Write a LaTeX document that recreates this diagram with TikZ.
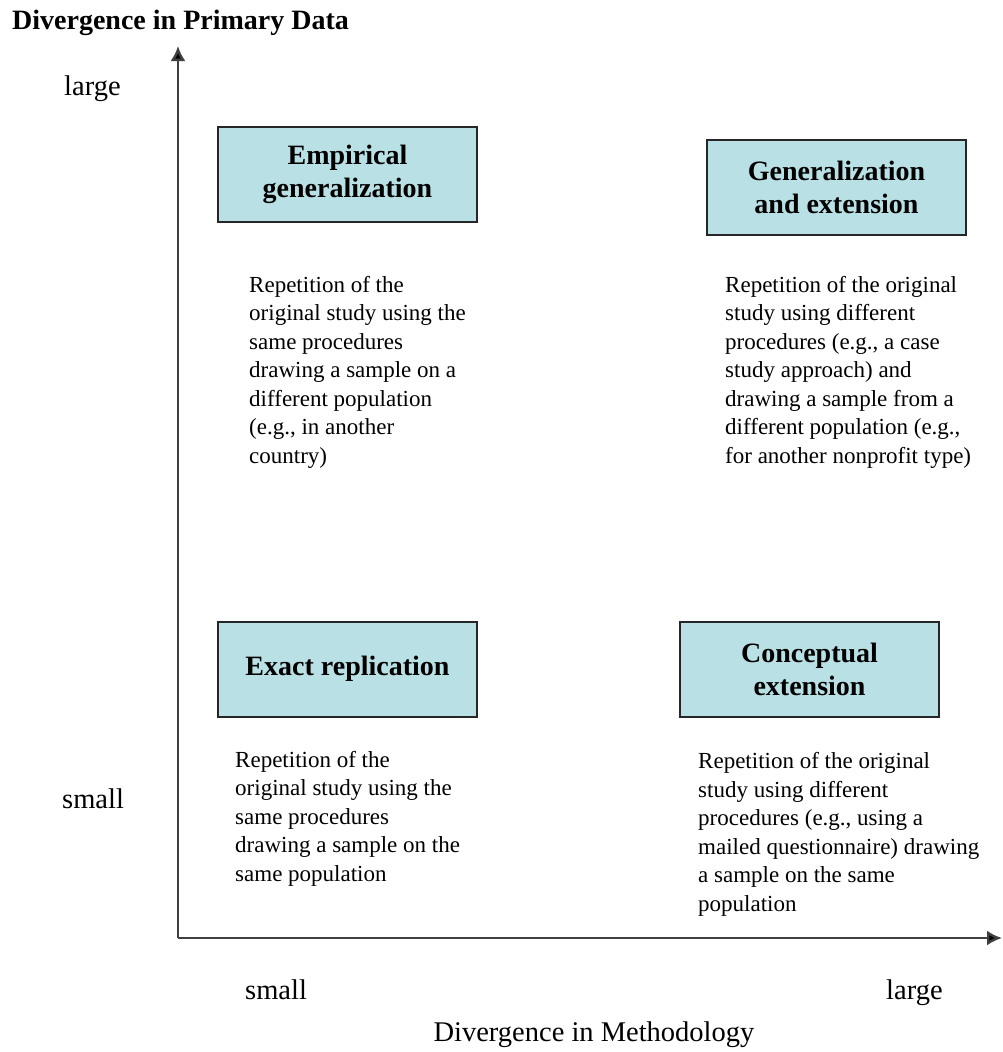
\documentclass[tikz,border=0pt]{standalone}
\usepackage{fontspec}
\setmainfont{Liberation Serif}
\usepackage{tikz}
\usetikzlibrary{arrows.meta, positioning}
\definecolor{boxblue}{RGB}{185,224,228}
\tikzset{
>={Latex[length=15pt, width=15pt, fill=black]}, % solid triangular arrow heads
axis/.style={->, line width=2.4pt, draw=black!75}, % the two axes
quad/.style={draw=black!85, line width=2pt, fill=boxblue, minimum width=259pt, minimum height=95pt, align=center, font=\fontsize{28}{33}\selectfont\bfseries}, % the four coloured boxes
desc/.style={anchor=base west, inner sep=0pt, align=left, font=\fontsize{23}{28.5}\selectfont}, % the texts below the boxes (placed by their last line)
lbl/.style={anchor=base west, inner sep=0pt, font=\fontsize{28.5}{30}\selectfont}, % small / large
}

\begin{document}
\begin{tikzpicture}[x=1pt, y=-1pt]
      \useasboundingbox (0,0) rectangle (1002,1052);
      \node[lbl, font=\fontsize{28}{30}\selectfont\bfseries] (ttl) at (12,29) {Divergence in Primary Data};

      \coordinate (o) at (178,938);
      \coordinate (ytip) at (178,46);
      \coordinate (xtip) at (1002,938);
      \draw[axis] (o) -- (ytip);
      \draw[axis] (o) -- (xtip);

      \node[lbl] (ylarge) at (64,95) {large};
      \node[lbl] (ysmall) at (62,808) {small};
      \node[lbl] (xsmall) at (245,999) {small};
      \node[lbl] (xlarge) at (886,999) {large};
      \node[lbl, anchor=base] (xttl) at (594,1041) {Divergence in Methodology};

      \node[quad] (emp) at (347.5,174.5) {Empirical\\generalization};
      \node[quad] (gen) at (836.5,187.5) {Generalization\\and extension};
      \node[quad] (exact) at (347.5,669) {Exact replication};
      \node[quad] (concept) at (809.5,669) {Conceptual\\extension};

      \node[desc] (empt) at (249,463) {Repetition of the\\original study using the\\same procedures\\drawing a sample on a\\different population\\(e.g., in another\\country)};
      \node[desc] (gent) at (725,463) {Repetition of the original\\study using different\\procedures (e.g., a case\\study approach) and\\drawing a sample from a\\different population (e.g.,\\for another nonprofit type)};
      \node[desc] (exactt) at (235,881) {Repetition of the\\original study using the\\same procedures\\drawing a sample on the\\same population};
      \node[desc] (conceptt) at (698,911) {Repetition of the original\\study using different\\procedures (e.g., using a\\mailed questionnaire) drawing\\a sample on the same\\population};
    \end{tikzpicture}
\end{document}
